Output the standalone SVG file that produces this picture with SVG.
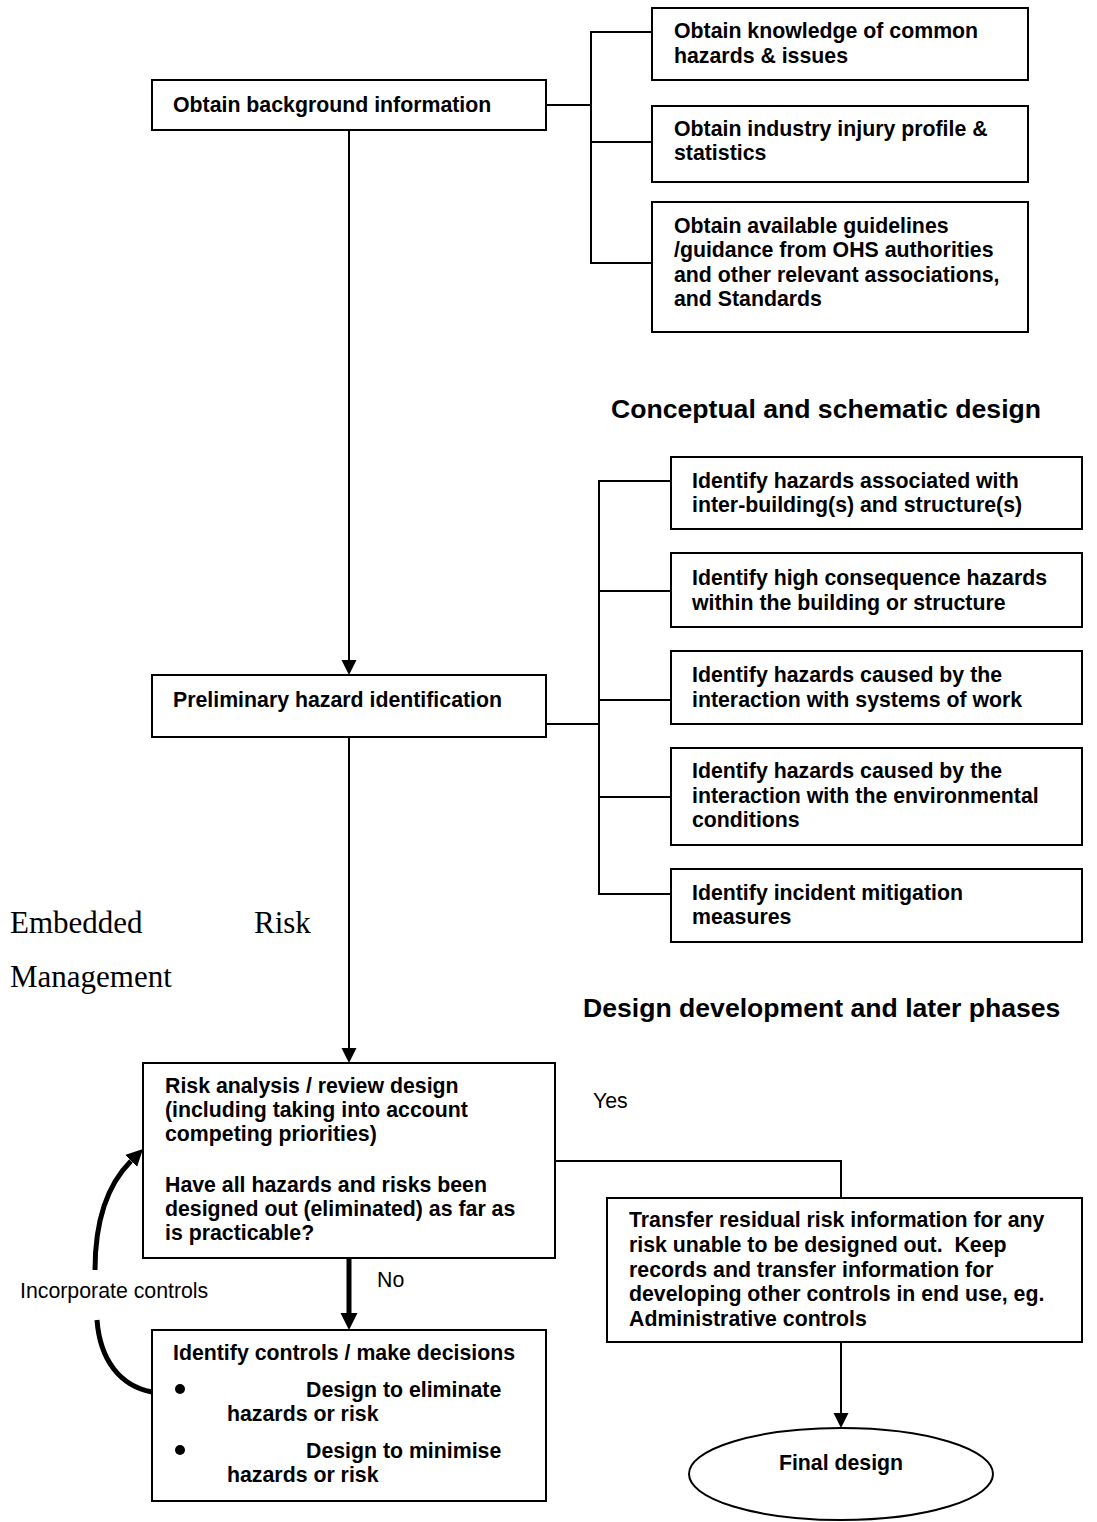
<svg xmlns="http://www.w3.org/2000/svg" width="1097" height="1522" viewBox="0 0 1097 1522">
  <style>
    .box { fill: #fff; stroke: #000; stroke-width: 2; }
    .t { font-family: "Liberation Sans", Arial, sans-serif; font-weight: bold; font-size: 21.3px; fill: #000; white-space: pre; }
    .h { font-family: "Liberation Sans", Arial, sans-serif; font-weight: bold; font-size: 26.6px; fill: #000; }
    .lbl { font-family: "Liberation Sans", Arial, sans-serif; font-size: 21.3px; fill: #000; }
    .tm { font-family: "Liberation Serif", "Times New Roman", serif; font-size: 31px; fill: #000; }
    .ln { fill: none; stroke: #000; stroke-width: 2; }
    .thick { fill: none; stroke: #000; stroke-width: 5; }
  </style>
  <defs>
    <marker id="arr" markerUnits="userSpaceOnUse" markerWidth="16" markerHeight="16" refX="0" refY="7.5" orient="auto">
      <path d="M0,0 L15,7.5 L0,15 z" fill="#000"/>
    </marker>
    <marker id="arrB" markerUnits="userSpaceOnUse" markerWidth="18" markerHeight="18" refX="0" refY="8.5" orient="auto">
      <path d="M0,0 L17,8.5 L0,17 z" fill="#000"/>
    </marker>
  </defs>
  <rect width="1097" height="1522" fill="#fff"/>

  <g id="connectors">
    <!-- top bracket -->
    <polyline class="ln" points="546,105 591,105"/>
    <polyline class="ln" points="652,32 591,32 591,263 652,263"/>
    <line class="ln" x1="591" y1="142" x2="652" y2="142"/>
    <!-- main vertical -->
    <line class="ln" x1="349" y1="130" x2="349" y2="660" marker-end="url(#arr)"/>
    <line class="ln" x1="349" y1="737" x2="349" y2="1048" marker-end="url(#arr)"/>
    <!-- middle bracket -->
    <line class="ln" x1="546" y1="724" x2="599" y2="724"/>
    <polyline class="ln" points="671,481 599,481 599,894 671,894"/>
    <line class="ln" x1="599" y1="591" x2="671" y2="591"/>
    <line class="ln" x1="599" y1="700" x2="671" y2="700"/>
    <line class="ln" x1="599" y1="797" x2="671" y2="797"/>
    <!-- No arrow -->
    <line class="thick" x1="349" y1="1258" x2="349" y2="1313" marker-end="url(#arrB)"/>
    <!-- Yes connector -->
    <polyline class="ln" points="555,1161 841,1161 841,1198"/>
    <!-- Transfer to final -->
    <line class="ln" x1="841" y1="1342" x2="841" y2="1413" marker-end="url(#arr)"/>
    <!-- Incorporate controls loop -->
    <path class="thick" d="M152,1392 C120,1386 100,1360 97,1320"/>
    <path class="thick" d="M95,1270 C95,1218 108,1184 131,1161" marker-end="url(#arrB)"/>
    <text class="lbl" x="377" y="1287">No</text>
    <text class="lbl" x="593" y="1108">Yes</text>
    <text class="lbl" x="20" y="1298">Incorporate controls</text>
  </g>

  <g id="n-background">
    <rect class="box" x="152" y="80" width="394" height="50"/>
    <text class="t" x="173" y="112">Obtain background information</text>
  </g>
  <g id="n-knowledge">
    <rect class="box" x="652" y="8" width="376" height="72"/>
    <text class="t" x="674" y="38">Obtain knowledge of common</text>
    <text class="t" x="674" y="63">hazards &amp; issues</text>
  </g>
  <g id="n-industry">
    <rect class="box" x="652" y="106" width="376" height="76"/>
    <text class="t" x="674" y="136">Obtain industry injury profile &amp;</text>
    <text class="t" x="674" y="160">statistics</text>
  </g>
  <g id="n-guidelines">
    <rect class="box" x="652" y="202" width="376" height="130"/>
    <text class="t" x="674" y="233">Obtain available guidelines</text>
    <text class="t" x="674" y="257">/guidance from OHS authorities</text>
    <text class="t" x="674" y="282">and other relevant associations,</text>
    <text class="t" x="674" y="306">and Standards</text>
  </g>

  <g id="h-conceptual">
    <text class="h" x="611" y="418">Conceptual and schematic design</text>
  </g>

  <g id="n-inter">
    <rect class="box" x="671" y="457" width="411" height="72"/>
    <text class="t" x="692" y="488">Identify hazards associated with</text>
    <text class="t" x="692" y="512">inter-building(s) and structure(s)</text>
  </g>
  <g id="n-highcons">
    <rect class="box" x="671" y="553" width="411" height="74"/>
    <text class="t" x="692" y="585">Identify high consequence hazards</text>
    <text class="t" x="692" y="610">within the building or structure</text>
  </g>
  <g id="n-systems">
    <rect class="box" x="671" y="651" width="411" height="73"/>
    <text class="t" x="692" y="682">Identify hazards caused by the</text>
    <text class="t" x="692" y="707">interaction with systems of work</text>
  </g>
  <g id="n-environment">
    <rect class="box" x="671" y="748" width="411" height="97"/>
    <text class="t" x="692" y="778">Identify hazards caused by the</text>
    <text class="t" x="692" y="803">interaction with the environmental</text>
    <text class="t" x="692" y="827">conditions</text>
  </g>
  <g id="n-mitigation">
    <rect class="box" x="671" y="869" width="411" height="73"/>
    <text class="t" x="692" y="900">Identify incident mitigation</text>
    <text class="t" x="692" y="924">measures</text>
  </g>

  <g id="n-preliminary">
    <rect class="box" x="152" y="675" width="394" height="62"/>
    <text class="t" x="173" y="707">Preliminary hazard identification</text>
  </g>

  <g id="t-embedded">
    <text class="tm" x="10" y="933">Embedded</text>
    <text class="tm" x="254" y="933">Risk</text>
    <text class="tm" x="10" y="987">Management</text>
  </g>

  <g id="h-development">
    <text class="h" x="583" y="1017">Design development and later phases</text>
  </g>

  <g id="n-risk">
    <rect class="box" x="143" y="1063" width="412" height="195"/>
    <text class="t" x="165" y="1093">Risk analysis / review design</text>
    <text class="t" x="165" y="1117">(including taking into account</text>
    <text class="t" x="165" y="1141">competing priorities)</text>
    <text class="t" x="165" y="1192">Have all hazards and risks been</text>
    <text class="t" x="165" y="1216">designed out (eliminated) as far as</text>
    <text class="t" x="165" y="1240">is practicable?</text>
  </g>

  <g id="n-controls">
    <rect class="box" x="152" y="1330" width="394" height="171"/>
    <text class="t" x="173" y="1360">Identify controls / make decisions</text>
    <circle cx="180" cy="1389" r="5" fill="#000"/>
    <text class="t" x="306" y="1397">Design to eliminate</text>
    <text class="t" x="227" y="1421">hazards or risk</text>
    <circle cx="180" cy="1450" r="5" fill="#000"/>
    <text class="t" x="306" y="1458">Design to minimise</text>
    <text class="t" x="227" y="1482">hazards or risk</text>
  </g>

  <g id="n-transfer">
    <rect class="box" x="607" y="1198" width="475" height="144"/>
    <text class="t" x="629" y="1227">Transfer residual risk information for any</text>
    <text class="t" x="629" y="1252" xml:space="preserve">risk unable to be designed out.  Keep</text>
    <text class="t" x="629" y="1277">records and transfer information for</text>
    <text class="t" x="629" y="1301">developing other controls in end use, eg.</text>
    <text class="t" x="629" y="1326">Administrative controls</text>
  </g>

  <g id="n-final">
    <ellipse class="box" cx="841" cy="1474" rx="152" ry="46"/>
    <text class="t" x="841" y="1470" text-anchor="middle">Final design</text>
  </g>
</svg>
